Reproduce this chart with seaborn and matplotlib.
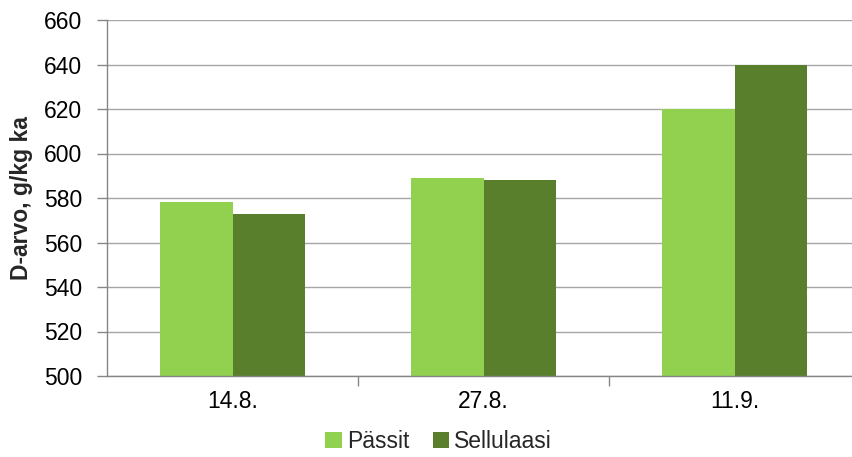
import matplotlib
matplotlib.use("Agg")
import matplotlib.pyplot as plt
from matplotlib.patches import Patch
import seaborn as sns
import pandas as pd

dates = ["14.8.", "27.8.", "11.9."]
passit = [578, 589, 620]
sellulaasi = [573, 588, 640]
series_names = ["Pässit", "Sellulaasi"]
colors = ["#92D050", "#5A7F2C"]
y_ticks = [500, 520, 540, 560, 580, 600, 620, 640, 660]

df = pd.DataFrame({
    "pvm": dates * 2,
    "arvo": passit + sellulaasi,
    "sarja": [series_names[0]] * 3 + [series_names[1]] * 3,
})

sns.set_theme(style="white")
plt.rcParams["font.family"] = ["Liberation Sans", "DejaVu Sans"]

fs = 16.5

fig = plt.figure(figsize=(8.52, 4.57), dpi=100)
ax = fig.add_axes([107 / 852, 1 - 376 / 457, 753 / 852, 356 / 457])

sns.barplot(data=df, x="pvm", y="arvo", hue="sarja", order=dates,
            hue_order=series_names, palette=colors, width=0.574, gap=0,
            saturation=1, ax=ax, legend=False, linewidth=0)

ax.set_ylim(500, 660)
ax.set_xlim(-0.5, 2.5)
ax.set_yticks(y_ticks)
ax.yaxis.grid(True, color="#A6A6A6", linewidth=1)
ax.set_axisbelow(True)

for side in ["top", "right"]:
    ax.spines[side].set_visible(False)
for side in ["left", "bottom"]:
    ax.spines[side].set_color("#868686")
    ax.spines[side].set_linewidth(1)

ax.tick_params(axis="y", which="major", length=7, width=1, color="#868686",
               labelsize=fs, labelcolor="black", left=True, pad=11)
ax.tick_params(axis="x", which="major", length=0, labelsize=fs,
               labelcolor="black", pad=10)
ax.set_xticks([0.5, 1.5], minor=True)
ax.tick_params(axis="x", which="minor", length=7, width=1, color="#868686",
               bottom=True)

ax.set_xlabel("")
ax.set_ylabel("D-arvo, g/kg ka", fontsize=fs, fontweight="bold", labelpad=8)

handles = [Patch(facecolor=c, edgecolor="none") for c in colors]
fig.legend(handles, series_names, loc="center", bbox_to_anchor=(0.515, 0.033),
           ncol=2, frameon=False, fontsize=fs, handlelength=0.7, handleheight=0.7,
           handletextpad=0.25, columnspacing=1.0)

fig.savefig("out.png", dpi=100)
